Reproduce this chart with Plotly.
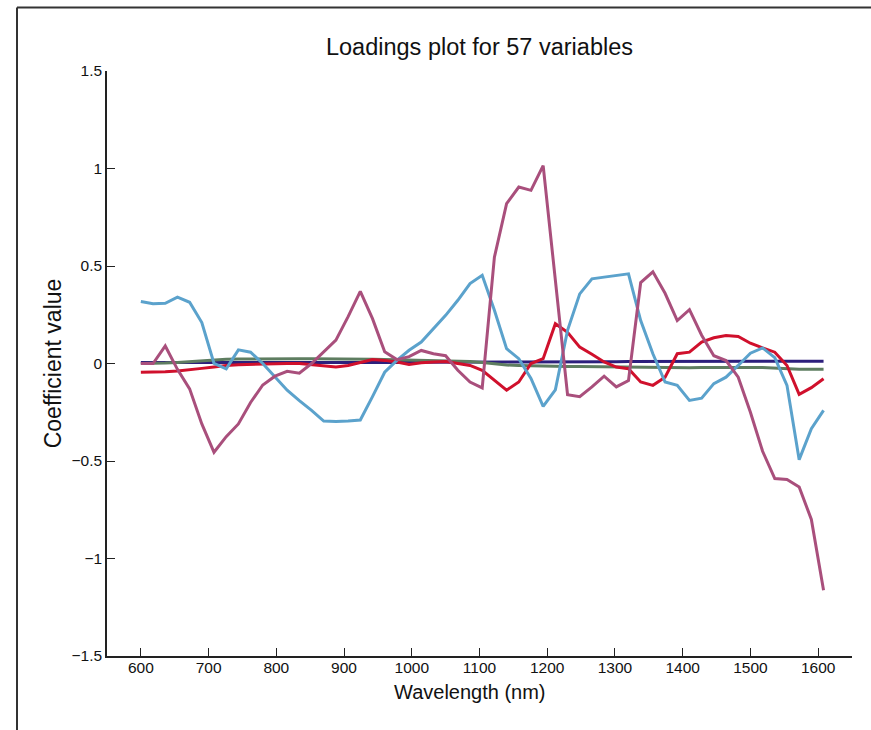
import plotly.graph_objects as go

wavelength = [600, 618, 636, 654, 672, 690, 708, 726, 744, 762,
              780, 798, 816, 834, 852, 870, 888, 906, 924, 942,
              960, 978, 996, 1014, 1032, 1050, 1068, 1086, 1104, 1122,
              1140, 1158, 1176, 1194, 1212, 1230, 1248, 1266, 1284, 1302,
              1320, 1338, 1356, 1374, 1392, 1410, 1428, 1446, 1464, 1482,
              1500, 1518, 1536, 1554, 1572, 1590, 1608]

pc_indigo = [0.005, 0.005, 0.005, 0.004, 0.004, 0.004, 0.004, 0.003, 0.003, 0.003,
             0.002, 0.002, 0.002, 0.002, 0.002, 0.003, 0.003, 0.003, 0.004, 0.004,
             0.005, 0.005, 0.005, 0.006, 0.006, 0.006, 0.007, 0.007, 0.007, 0.007,
             0.008, 0.008, 0.008, 0.008, 0.008, 0.009, 0.009, 0.009, 0.009, 0.009,
             0.01, 0.01, 0.01, 0.01, 0.01, 0.011, 0.011, 0.011, 0.011, 0.011,
             0.012, 0.012, 0.012, 0.012, 0.012, 0.012, 0.012]

pc_green = [0.0, 0.0, 0.002, 0.005, 0.01, 0.015, 0.02, 0.022, 0.023, 0.024,
            0.025, 0.025, 0.025, 0.025, 0.025, 0.025, 0.025, 0.024, 0.023, 0.022,
            0.02, 0.019, 0.018, 0.016, 0.015, 0.014, 0.012, 0.01, 0.005, -0.002,
            -0.008, -0.01, -0.012, -0.014, -0.015, -0.015, -0.016, -0.017, -0.017, -0.018,
            -0.019, -0.02, -0.02, -0.021, -0.022, -0.022, -0.021, -0.02, -0.02, -0.02,
            -0.02, -0.021, -0.025, -0.028, -0.03, -0.03, -0.03]

pc_red = [-0.045, -0.045, -0.042, -0.038, -0.033, -0.025, -0.018, -0.01, -0.006, -0.004,
          -0.002, 0.0, 0.0, 0.0, -0.005, -0.012, -0.018, -0.01, 0.005, 0.02,
          0.016, 0.008, -0.005, 0.004, 0.008, 0.01, 0.0, -0.01, -0.035, -0.086,
          -0.137, -0.095, 0.0, 0.025, 0.204, 0.16, 0.084, 0.047, 0.008, -0.018,
          -0.027, -0.095, -0.112, -0.07, 0.05, 0.058, 0.11, 0.132, 0.144, 0.139,
          0.104, 0.08, 0.058, -0.01, -0.158, -0.124, -0.078]

pc_blue = [0.318, 0.306, 0.309, 0.34, 0.314, 0.21, 0.0, -0.027, 0.07, 0.058,
           0.0, -0.07, -0.137, -0.19, -0.24, -0.295, -0.297, -0.295, -0.29, -0.17,
           -0.045, 0.016, 0.068, 0.11, 0.178, 0.247, 0.324, 0.41, 0.452, 0.273,
           0.076, 0.025, -0.077, -0.22, -0.135, 0.17, 0.357, 0.434, 0.443, 0.452,
           0.46, 0.22, 0.05, -0.095, -0.112, -0.189, -0.178, -0.103, -0.07, -0.01,
           0.053, 0.08, 0.03, -0.112, -0.493, -0.334, -0.24]

pc_pink = [0.0, 0.0, 0.09, -0.03, -0.13, -0.31, -0.455, -0.375, -0.31, -0.2,
           -0.11, -0.065, -0.04, -0.05, 0.0, 0.06, 0.12, 0.24, 0.37, 0.23,
           0.06, 0.02, 0.035, 0.067, 0.05, 0.04, -0.035, -0.095, -0.125, 0.545,
           0.82, 0.905, 0.888, 1.015, 0.43, -0.16, -0.17, -0.12, -0.065, -0.12,
           -0.087, 0.415, 0.47, 0.36, 0.22, 0.276, 0.145, 0.04, 0.015, -0.07,
           -0.25, -0.45, -0.59, -0.595, -0.633, -0.80, -1.163]

x_ticks = [600, 700, 800, 900, 1000, 1100, 1200, 1300, 1400, 1500, 1600]
y_ticks = [-1.5, -1, -0.5, 0, 0.5, 1, 1.5]
y_tick_text = ["\u22121.5", "\u22121", "\u22120.5", "0", "0.5", "1", "1.5"]

series = [
    (pc_indigo, "#2c1f7c"),
    (pc_green, "#5e7d60"),
    (pc_red, "#d0102c"),
    (pc_blue, "#5ba2cc"),
    (pc_pink, "#a94f7c"),
]

fig = go.Figure()
for vals, col in series:
    fig.add_trace(go.Scatter(x=wavelength, y=vals, mode="lines",
                             line=dict(color=col, width=3), showlegend=False))

W, H = 871, 730
ml, mr, mt, mb = 107, 19, 71, 74
pw, ph = W - ml - mr, H - mt - mb

def px_x(p):
    return (p - ml) / pw

def px_y(p):
    return (H - mb - p) / ph

font = "Liberation Sans, Arial, Helvetica, sans-serif"

fig.update_layout(
    width=W, height=H,
    margin=dict(l=ml, r=mr, t=mt, b=mb),
    paper_bgcolor="white", plot_bgcolor="white",
    font=dict(family=font, color="#111111"),
    title=dict(text="Loadings plot for 57 variables", x=0.5 * (ml + W - mr) / W,
               xanchor="center", y=1 - 47 / H, yanchor="middle", yref="container",
               font=dict(size=23.5, family=font, color="#111111")),
    xaxis=dict(range=[550, 1650], tickvals=x_ticks, ticks="inside", ticklen=8,
               tickwidth=1.2, tickcolor="#222222", showline=True, linecolor="#222222",
               linewidth=1.5, showgrid=False, zeroline=False, ticklabelstandoff=-3,
               tickfont=dict(size=15.5, family=font, color="#111111")),
    yaxis=dict(range=[-1.5, 1.5], tickvals=y_ticks, ticktext=y_tick_text,
               ticks="inside", ticklen=8, tickwidth=1.2, tickcolor="#222222",
               showline=True, linecolor="#222222", linewidth=1.5,
               showgrid=False, zeroline=False,
               tickfont=dict(size=15.5, family=font, color="#111111"),
               title=dict(text="Coefficient value", standoff=3,
                          font=dict(size=23, family=font, color="#111111"))),
    annotations=[
        dict(text="Wavelength (nm)", xref="paper", yref="paper",
             x=px_x(470), y=px_y(692), xanchor="center", yanchor="middle",
             showarrow=False, font=dict(size=20, family=font, color="#111111")),
    ],
    shapes=[
        dict(type="line", xref="paper", yref="paper",
             x0=px_x(17), x1=px_x(17), y0=px_y(H + 2), y1=px_y(7.5),
             line=dict(color="#333333", width=2)),
        dict(type="line", xref="paper", yref="paper",
             x0=px_x(17), x1=px_x(W + 2), y0=px_y(7.5), y1=px_y(7.5),
             line=dict(color="#333333", width=2)),
    ],
)

fig.write_html("out.html")
